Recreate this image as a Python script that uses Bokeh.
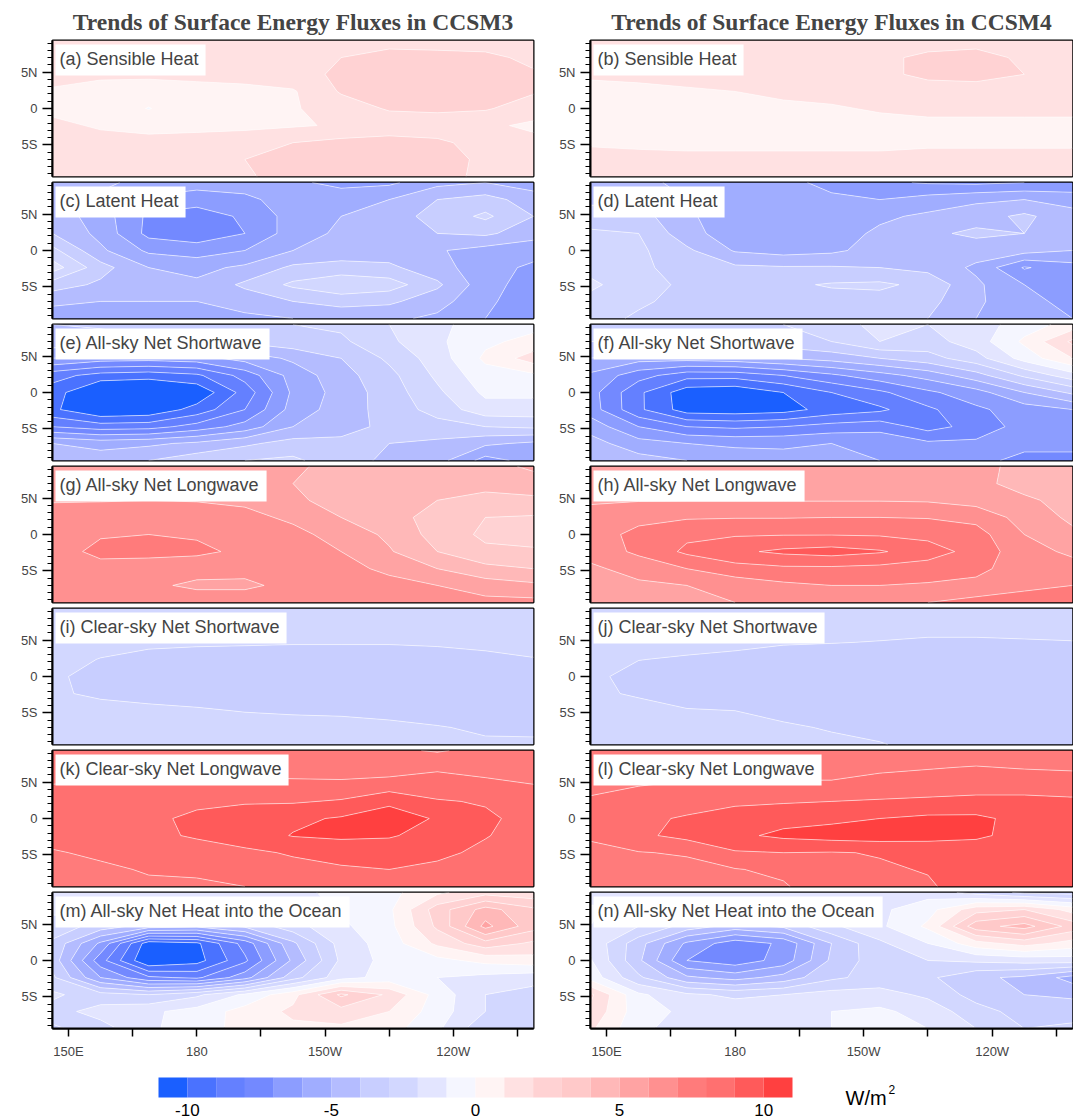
import numpy as np
from bokeh.plotting import figure
from bokeh.models import Range1d, FixedTicker, Label
from bokeh.layouts import gridplot, column
from bokeh.core.properties import value
from bokeh.embed import file_html
from bokeh.resources import INLINE

# grid of the fields (rows below run north -> south)
lon = [146.25, 157.5, 168.75, 180.0, 191.25, 202.5, 213.75, 225.0, 236.25, 247.5, 258.75]
lat = [9.35, 7.0, 4.7, 2.35, 0.0, -2.35, -4.7, -7.0, -9.35]

# trends, W/m2
sh_ccsm3 = [
    [1.6, 1.6, 1.6, 1.6, 1.6, 1.7, 1.8, 1.7, 1.6, 1.6, 1.6],
    [1.5, 1.5, 1.5, 1.6, 1.6, 1.7, 2.0, 2.3, 2.3, 2.2, 1.8],
    [1.3, 1.2, 1.2, 1.3, 1.4, 1.6, 2.2, 2.5, 2.5, 2.4, 2.1],
    [0.9, 0.6, 0.5, 0.6, 0.7, 0.9, 2.1, 2.4, 2.5, 2.4, 2.1],
    [0.8, 0.7, -0.05, 0.8, 0.8, 0.9, 1.5, 2.1, 2.2, 2.1, 1.5],
    [1.2, 0.9, 0.8, 0.8, 0.8, 0.9, 1.1, 1.4, 1.4, 1.2, 0.8],
    [1.6, 1.3, 1.2, 1.3, 1.5, 2.0, 2.3, 2.4, 2.2, 1.6, 1.3],
    [1.4, 1.5, 1.6, 1.7, 2.0, 2.4, 2.6, 2.6, 2.4, 1.8, 1.5],
    [1.2, 1.3, 1.5, 1.7, 1.9, 2.3, 2.5, 2.5, 2.3, 1.8, 1.5],
]
sh_ccsm4 = [
    [1.6, 1.6, 1.6, 1.6, 1.6, 1.6, 1.7, 1.8, 1.8, 1.7, 1.6],
    [1.5, 1.5, 1.5, 1.5, 1.6, 1.7, 1.9, 2.1, 2.2, 1.9, 1.7],
    [1.1, 1.2, 1.3, 1.4, 1.5, 1.6, 1.8, 2.2, 2.3, 2.0, 1.7],
    [0.8, 0.8, 0.9, 1.0, 1.2, 1.3, 1.5, 1.6, 1.6, 1.5, 1.4],
    [0.6, 0.6, 0.6, 0.7, 0.8, 0.9, 1.1, 1.2, 1.2, 1.2, 1.1],
    [0.6, 0.5, 0.5, 0.5, 0.6, 0.6, 0.7, 0.8, 0.8, 0.8, 0.9],
    [0.9, 0.8, 0.8, 0.8, 0.8, 0.8, 0.8, 0.9, 0.9, 0.9, 0.9],
    [1.3, 1.3, 1.2, 1.2, 1.2, 1.2, 1.2, 1.2, 1.2, 1.2, 1.2],
    [1.5, 1.5, 1.4, 1.4, 1.4, 1.4, 1.4, 1.4, 1.4, 1.4, 1.4],
]
lh_ccsm3 = [
    [-4.5, -4.8, -5.3, -5.6, -5.6, -5.8, -6.3, -6.2, -5.3, -5.0, -5.5],
    [-4.6, -5.2, -6.2, -6.5, -6.2, -5.6, -5.4, -5.0, -4.0, -3.6, -4.5],
    [-4.4, -5.5, -7.2, -7.6, -6.8, -5.6, -5.0, -4.5, -3.6, -2.8, -4.0],
    [-4.0, -5.3, -7.3, -7.6, -7.0, -5.5, -4.8, -4.6, -4.0, -3.8, -4.6],
    [-2.7, -4.8, -6.2, -6.5, -6.0, -5.0, -4.6, -4.5, -4.9, -5.4, -5.6],
    [-1.5, -3.6, -5.0, -5.3, -4.8, -3.8, -3.6, -3.8, -4.6, -5.6, -6.2],
    [-3.5, -4.2, -4.6, -4.8, -3.8, -2.8, -2.2, -2.5, -3.8, -5.6, -6.5],
    [-4.8, -5.0, -5.0, -5.0, -4.6, -4.0, -3.6, -3.8, -4.6, -5.8, -6.6],
    [-5.5, -5.8, -5.6, -5.6, -5.2, -5.0, -4.8, -4.8, -5.2, -6.0, -6.5],
]
lh_ccsm4 = [
    [-4.4, -4.8, -5.2, -5.5, -5.7, -6.3, -6.8, -7.1, -7.2, -7.0, -6.8],
    [-4.2, -4.2, -5.0, -5.6, -5.6, -5.8, -6.0, -5.6, -5.2, -5.0, -5.4],
    [-3.6, -3.6, -4.8, -5.7, -6.0, -5.6, -5.2, -4.8, -4.4, -3.8, -4.6],
    [-2.8, -3.0, -4.6, -5.6, -5.7, -5.5, -4.8, -4.2, -3.8, -4.0, -4.6],
    [-2.4, -2.8, -3.8, -5.1, -5.4, -5.2, -4.6, -4.5, -4.5, -4.6, -5.0],
    [-2.3, -2.8, -3.4, -3.8, -3.9, -3.9, -4.0, -4.3, -5.2, -7.1, -6.4],
    [-1.8, -2.6, -3.2, -3.4, -3.2, -2.9, -2.8, -3.3, -4.8, -6.0, -6.3],
    [-2.3, -2.8, -3.4, -3.6, -3.5, -3.4, -3.4, -3.7, -4.8, -5.8, -6.2],
    [-2.5, -3.2, -3.7, -3.8, -3.8, -3.8, -3.8, -4.0, -5.0, -5.8, -6.0],
]
sw_ccsm3 = [
    [-4.0, -3.9, -3.6, -3.4, -3.2, -3.0, -2.8, -2.0, -1.2, -0.6, -0.3],
    [-4.4, -4.3, -4.2, -4.0, -3.8, -3.4, -3.2, -2.2, -1.2, -0.2, 0.3],
    [-6.0, -6.5, -6.6, -6.4, -5.6, -4.8, -4.0, -2.8, -1.5, 0.2, 1.5],
    [-8.6, -9.4, -9.6, -9.2, -7.6, -5.6, -4.4, -3.3, -1.8, -0.4, -0.2],
    [-9.5, -11.3, -11.4, -10.8, -8.6, -5.8, -4.6, -3.5, -2.2, -0.8, -0.8],
    [-9.8, -11.0, -10.8, -9.6, -8.0, -5.6, -4.5, -3.6, -2.6, -1.4, -1.4],
    [-8.0, -8.5, -8.4, -7.6, -6.6, -5.0, -4.3, -3.8, -3.4, -3.0, -2.8],
    [-5.0, -5.4, -5.2, -4.8, -4.2, -3.6, -3.8, -4.0, -4.2, -4.8, -5.2],
    [-4.2, -4.4, -4.0, -3.4, -3.0, -2.8, -3.6, -4.2, -4.6, -6.4, -5.6],
]
sw_ccsm4 = [
    [-3.6, -3.6, -3.4, -3.2, -3.0, -2.6, -1.6, -2.0, -1.5, -0.5, 0.4],
    [-4.0, -4.0, -3.8, -3.6, -3.4, -3.0, -2.0, -2.4, -1.5, 0.2, 2.2],
    [-5.0, -5.6, -5.6, -5.4, -5.0, -4.6, -4.0, -3.4, -2.4, -0.6, 1.0],
    [-6.2, -7.6, -8.6, -8.6, -8.0, -7.2, -6.4, -5.6, -4.4, -2.8, -1.4],
    [-6.6, -8.8, -10.6, -10.8, -10.0, -9.0, -8.2, -7.2, -6.4, -5.0, -3.8],
    [-6.5, -8.8, -10.5, -10.6, -10.4, -9.6, -9.2, -8.2, -7.2, -6.5, -6.0],
    [-5.4, -7.0, -8.0, -8.2, -8.0, -7.6, -7.4, -8.4, -7.6, -6.6, -6.4],
    [-4.6, -5.6, -6.0, -6.2, -6.2, -6.0, -6.2, -6.8, -6.8, -6.8, -6.8],
    [-4.2, -4.6, -5.0, -5.4, -5.6, -5.6, -6.0, -6.4, -6.8, -7.2, -7.2],
]
lw_ccsm3 = [
    [5.8, 5.8, 5.8, 5.8, 5.6, 5.2, 4.6, 4.4, 4.5, 4.6, 5.2],
    [5.8, 5.8, 5.8, 5.9, 5.6, 5.0, 4.4, 4.3, 4.3, 4.3, 4.5],
    [5.95, 5.95, 6.0, 5.95, 5.8, 5.3, 4.4, 4.2, 4.0, 3.7, 3.8],
    [6.3, 6.5, 6.6, 6.5, 6.3, 5.8, 5.0, 4.4, 3.6, 3.0, 2.9],
    [6.4, 6.9, 7.0, 6.9, 6.7, 6.3, 5.6, 4.8, 3.6, 2.8, 2.7],
    [6.5, 7.3, 7.3, 7.2, 6.8, 6.5, 6.0, 5.1, 4.0, 3.2, 3.1],
    [6.4, 6.6, 6.5, 6.4, 6.3, 6.3, 6.3, 5.8, 5.0, 4.3, 4.0],
    [6.3, 6.5, 6.2, 5.8, 5.8, 6.3, 6.5, 6.3, 6.0, 5.5, 5.2],
    [6.3, 6.5, 6.6, 6.6, 6.6, 6.7, 6.9, 7.0, 6.6, 6.3, 6.3],
]
lw_ccsm4 = [
    [5.6, 5.6, 5.6, 5.6, 5.6, 5.6, 5.6, 5.5, 5.2, 4.8, 4.6],
    [5.7, 5.7, 5.7, 5.7, 5.7, 5.8, 5.8, 5.7, 5.3, 4.6, 4.4],
    [5.9, 5.95, 5.95, 5.95, 5.95, 5.95, 5.95, 5.9, 5.6, 5.2, 4.6],
    [6.3, 6.7, 6.9, 6.95, 6.95, 7.0, 7.0, 6.95, 6.7, 5.6, 4.8],
    [6.5, 7.3, 7.8, 7.9, 7.95, 7.95, 7.9, 7.7, 7.4, 6.0, 5.2],
    [6.4, 7.2, 8.2, 8.8, 9.2, 9.4, 9.1, 8.5, 7.6, 6.4, 5.8],
    [5.8, 6.4, 7.0, 7.6, 7.8, 7.8, 7.7, 7.5, 7.2, 6.6, 6.4],
    [5.6, 5.8, 6.0, 6.4, 6.8, 7.0, 7.0, 6.9, 6.8, 6.9, 7.0],
    [5.4, 5.6, 5.8, 6.0, 6.4, 6.9, 7.0, 7.0, 7.1, 7.2, 7.4],
]
cs_sw_ccsm3 = [
    [-2.5, -2.6, -2.6, -2.7, -2.7, -2.7, -2.7, -2.7, -2.7, -2.6, -2.5],
    [-2.6, -2.7, -2.75, -2.8, -2.8, -2.8, -2.85, -2.85, -2.8, -2.75, -2.7],
    [-2.7, -2.8, -2.9, -2.93, -2.95, -2.97, -2.97, -2.97, -2.95, -2.9, -2.85],
    [-2.8, -3.02, -3.15, -3.2, -3.2, -3.2, -3.2, -3.2, -3.15, -3.1, -3.02],
    [-2.9, -3.2, -3.3, -3.3, -3.3, -3.35, -3.35, -3.35, -3.3, -3.3, -3.2],
    [-2.92, -3.1, -3.15, -3.2, -3.25, -3.3, -3.3, -3.3, -3.3, -3.3, -3.3],
    [-2.6, -2.8, -2.9, -2.95, -3.02, -3.05, -3.05, -3.1, -3.15, -3.2, -3.2],
    [-2.5, -2.6, -2.7, -2.75, -2.8, -2.85, -2.9, -2.92, -2.98, -3.05, -3.1],
    [-2.4, -2.5, -2.55, -2.6, -2.65, -2.7, -2.75, -2.8, -2.88, -2.95, -2.92],
]
cs_sw_ccsm4 = [
    [-2.5, -2.6, -2.6, -2.7, -2.7, -2.75, -2.8, -2.85, -2.85, -2.85, -2.85],
    [-2.6, -2.7, -2.75, -2.8, -2.85, -2.88, -2.9, -2.93, -2.93, -2.92, -2.9],
    [-2.7, -2.8, -2.85, -2.9, -2.97, -2.99, -3.01, -3.03, -3.03, -3.02, -3.01],
    [-2.8, -2.99, -3.05, -3.1, -3.15, -3.15, -3.2, -3.2, -3.2, -3.2, -3.2],
    [-2.9, -3.15, -3.25, -3.3, -3.3, -3.3, -3.3, -3.3, -3.3, -3.3, -3.3],
    [-2.92, -3.05, -3.2, -3.25, -3.3, -3.3, -3.35, -3.35, -3.35, -3.35, -3.35],
    [-2.7, -2.85, -2.97, -3.0, -3.1, -3.2, -3.25, -3.3, -3.3, -3.35, -3.35],
    [-2.6, -2.7, -2.8, -2.85, -2.95, -3.03, -3.1, -3.2, -3.25, -3.3, -3.3],
    [-2.5, -2.6, -2.7, -2.75, -2.85, -2.92, -2.98, -3.1, -3.2, -3.25, -3.25],
]
cs_lw_ccsm3 = [
    [7.6, 7.6, 7.6, 7.6, 7.5, 7.4, 7.3, 7.2, 6.9, 7.3, 7.6],
    [7.7, 7.7, 7.7, 7.7, 7.7, 7.6, 7.5, 7.5, 7.9, 7.7, 7.8],
    [8.0, 8.1, 8.2, 8.2, 8.2, 8.2, 8.2, 8.4, 8.3, 8.2, 8.0],
    [8.2, 8.3, 8.5, 8.8, 8.9, 8.9, 9.1, 9.8, 9.1, 8.9, 8.5],
    [8.3, 8.5, 8.8, 9.2, 9.5, 9.8, 10.1, 10.5, 9.9, 9.2, 8.6],
    [8.4, 8.5, 8.8, 9.1, 9.5, 10.05, 10.2, 10.1, 9.6, 9.05, 8.6],
    [7.9, 8.2, 8.4, 8.6, 8.8, 9.1, 9.3, 9.4, 9.2, 8.8, 8.5],
    [7.6, 7.8, 8.1, 8.2, 8.4, 8.7, 8.9, 9.0, 8.8, 8.6, 8.5],
    [7.5, 7.8, 7.8, 7.8, 8.0, 8.3, 8.4, 8.5, 8.5, 8.5, 8.5],
]
cs_lw_ccsm4 = [
    [7.6, 7.6, 7.6, 7.6, 7.6, 7.6, 7.6, 7.5, 7.5, 7.5, 7.6],
    [7.7, 7.7, 7.7, 7.7, 7.7, 7.7, 7.85, 7.95, 8.05, 7.95, 7.9],
    [7.8, 7.95, 8.1, 8.1, 8.1, 8.1, 8.3, 8.4, 8.5, 8.5, 8.4],
    [8.1, 8.4, 8.6, 8.8, 8.9, 9.0, 9.1, 9.2, 9.3, 9.3, 9.2],
    [8.5, 8.8, 9.1, 9.5, 9.7, 9.8, 10.0, 10.2, 10.2, 9.7, 9.5],
    [8.1, 8.8, 9.3, 9.8, 10.2, 10.4, 10.5, 10.4, 10.2, 9.6, 9.4],
    [7.8, 7.95, 8.1, 8.9, 9.0, 8.95, 9.05, 9.2, 9.3, 9.3, 9.4],
    [7.6, 7.8, 7.7, 7.95, 8.2, 8.8, 8.9, 9.05, 9.3, 9.5, 9.6],
    [7.4, 7.6, 7.6, 7.8, 7.9, 8.6, 8.8, 8.9, 9.4, 9.6, 9.7],
]
net_ccsm3 = [
    [-1.6, -1.4, -1.3, -1.2, -1.3, -1.4, -0.6, -0.3, 0.8, 1.6, 1.3],
    [-1.8, -1.6, -1.6, -1.7, -1.6, -1.5, -0.9, -0.2, 2.5, 4.4, 3.2],
    [-2.4, -3.4, -4.5, -4.8, -3.8, -2.4, -1.2, -0.3, 2.2, 5.3, 3.4],
    [-3.2, -6.2, -10.6, -10.2, -7.6, -4.2, -1.6, -0.5, 1.2, 2.6, 1.8],
    [-3.4, -7.6, -11.0, -10.4, -8.2, -4.8, -1.8, -0.6, -0.3, 0.3, 0.6],
    [-2.8, -6.0, -7.8, -8.2, -6.4, -3.4, -1.4, -0.6, -1.0, -1.3, -1.6],
    [-1.8, -2.6, -3.0, -2.2, -0.8, 0.7, 3.2, 1.8, -0.4, -2.0, -2.4],
    [-2.4, -1.6, -1.2, -0.6, 0.4, 1.2, 1.6, 1.0, -0.5, -2.0, -2.8],
    [-3.2, -2.4, -1.2, -0.4, 0.3, 0.8, 0.8, 0.4, -0.8, -2.8, -2.4],
]
net_ccsm4 = [
    [-1.2, -1.4, -1.6, -1.6, -1.6, -1.4, -1.2, -1.4, -2.4, -3.2, -3.4],
    [-0.9, -1.4, -1.8, -1.8, -1.8, -1.5, -1.2, -0.4, 1.6, 2.0, 0.6],
    [-1.0, -2.0, -3.4, -4.4, -3.8, -2.2, -1.2, 0.2, 3.6, 4.4, 2.6],
    [-1.2, -3.6, -6.2, -7.6, -6.8, -4.0, -2.2, -1.0, 0.6, 1.4, 0.6],
    [-0.9, -3.8, -7.0, -7.6, -6.6, -3.8, -2.4, -2.0, -1.8, -1.6, -1.5],
    [-0.4, -2.8, -4.8, -5.4, -4.6, -3.2, -2.6, -2.8, -3.8, -4.2, -5.4],
    [2.2, -0.8, -1.8, -2.2, -2.0, -1.6, -1.6, -2.2, -3.4, -4.0, -4.2],
    [1.8, -0.6, -1.2, -1.4, -1.2, -1.0, -0.8, -1.4, -2.6, -3.4, -3.4],
    [1.2, -0.8, -1.4, -1.6, -1.4, -1.0, -0.8, -1.0, -2.0, -3.0, -2.8],
]

panels = [
    ("(a) Sensible Heat", sh_ccsm3), ("(b) Sensible Heat", sh_ccsm4),
    ("(c) Latent Heat", lh_ccsm3), ("(d) Latent Heat", lh_ccsm4),
    ("(e) All-sky Net Shortwave", sw_ccsm3), ("(f) All-sky Net Shortwave", sw_ccsm4),
    ("(g) All-sky Net Longwave", lw_ccsm3), ("(h) All-sky Net Longwave", lw_ccsm4),
    ("(i) Clear-sky Net Shortwave", cs_sw_ccsm3), ("(j) Clear-sky Net Shortwave", cs_sw_ccsm4),
    ("(k) Clear-sky Net Longwave", cs_lw_ccsm3), ("(l) Clear-sky Net Longwave", cs_lw_ccsm4),
    ("(m) All-sky Net Heat into the Ocean", net_ccsm3), ("(n) All-sky Net Heat into the Ocean", net_ccsm4),
]
titles = ["Trends of Surface Energy Fluxes in CCSM3", "Trends of Surface Energy Fluxes in CCSM4"]

# contour levels / colours (open-ended at both ends)
levels = [-1000] + list(range(-10, 11)) + [1000]
palette = ["#1a5fff", "#4a72ff", "#6480ff", "#7389ff", "#8c9dff", "#a0adff",
           "#b4bcff", "#c8ceff", "#d2d7ff", "#e3e5ff", "#f5f6ff", "#fff4f4",
           "#ffe1e2", "#ffd2d3", "#ffc9c9", "#ffb8b8", "#ffa3a3", "#ff9090",
           "#ff7b7b", "#ff7070", "#ff5a5a", "#ff4040"]
cbar_edges = list(range(-11, 12))
cbar_ticks = [-10, -5, 0, 5, 10]

lat_ticks = [-5, 0, 5]
lat_labels = ["5S", "0", "5N"]
lat_minor = list(range(-9, 10))
lon_ticks = [150, 165, 180, 195, 210, 225, 240, 255]
lon_labels = ["150E", "", "180", "", "150W", "", "120W", ""]

FONT = "Liberation Sans"


def make_panel(label, field, col, row):
    last = row == 6
    p = figure(frame_width=481 + col, frame_height=136,
               x_range=Range1d(lon[0], lon[-1]), y_range=Range1d(lat[-1], lat[0]),
               x_axis_location="below" if last else None,
               min_border_left=52 - 3 * col, min_border_right=8 - 7 * col,
               min_border_top=40 if row == 0 else 3,
               min_border_bottom=34 if last else 3,
               output_backend="svg", toolbar_location=None)
    if row == 0:
        p.title.text = titles[col]
        p.title.align = "center"
        p.title.text_font = "Liberation Serif"
        p.title.text_font_style = "bold"
        p.title.text_font_size = "23.5px"
        p.title.standoff = 11

    z = np.array(field)[::-1]
    p.contour(lon, lat[::-1], z, levels, fill_color=palette,
              line_color="white", line_width=0.6, line_alpha=0.9)

    p.add_layout(Label(x=lon[0], y=lat[0], x_offset=3, y_offset=-4, anchor="top_left",
                       text=label, text_font=FONT, text_font_size="18px",
                       background_fill_color="white", padding=(4, 7, 4, 7)))

    p.grid.visible = False
    p.outline_line_color = "black"
    p.outline_line_width = 2

    ya = p.yaxis[0]
    ya.ticker = FixedTicker(ticks=lat_ticks, minor_ticks=lat_minor)
    ya.major_label_overrides = dict(zip(lat_ticks, lat_labels))
    ya.major_tick_in = 0
    ya.major_tick_out = 10
    ya.minor_tick_in = 0
    ya.minor_tick_out = 5
    ya.major_tick_line_width = 1.5
    ya.axis_line_width = 2
    ya.major_label_standoff = 5
    ya.major_label_text_font = FONT
    ya.major_label_text_font_size = "13px"

    if last:
        xa = p.xaxis[0]
        xa.ticker = FixedTicker(ticks=lon_ticks, minor_ticks=[])
        xa.major_label_overrides = dict(zip(lon_ticks, lon_labels))
        xa.major_tick_in = 0
        xa.major_tick_out = 8
        xa.major_tick_line_width = 1.5
        xa.axis_line_width = 2
        xa.major_label_standoff = 7
        xa.major_label_text_font = FONT
        xa.major_label_text_font_size = "13px"
    return p


rows = []
for r in range(7):
    rows.append([make_panel(*panels[2 * r + c], c, r) for c in range(2)])
grid = gridplot(rows, toolbar_location=None)

# colour bar
px_per_unit = 634 / 22
x0 = cbar_edges[0] - 158 / px_per_unit
cb = figure(width=1072, height=57, x_range=Range1d(x0, x0 + 1072 / px_per_unit),
            y_range=Range1d(57, 0), x_axis_location=None, y_axis_location=None,
            min_border=0, outline_line_color=None,
            output_backend="svg", toolbar_location=None)
cb.grid.visible = False
cb.quad(left=cbar_edges[:-1], right=cbar_edges[1:], top=15, bottom=35,
        fill_color=palette, line_color=None)
cb.text(x=cbar_ticks, y=47, text=[str(t) for t in cbar_ticks],
        text_align="center", text_baseline="middle",
        text_font=value(FONT), text_font_size="17px", text_color="black")
cb.text(x=[12.84], y=[35], text=["W/m"], text_align="left", text_baseline="middle",
        text_font=value(FONT), text_font_size="20px", text_color="black")
cb.text(x=[14.33], y=[27], text=["2"], text_align="left", text_baseline="middle",
        text_font=value(FONT), text_font_size="12px", text_color="black")

page = column(grid, cb)
open("out.html", "w").write(file_html(page, INLINE))
